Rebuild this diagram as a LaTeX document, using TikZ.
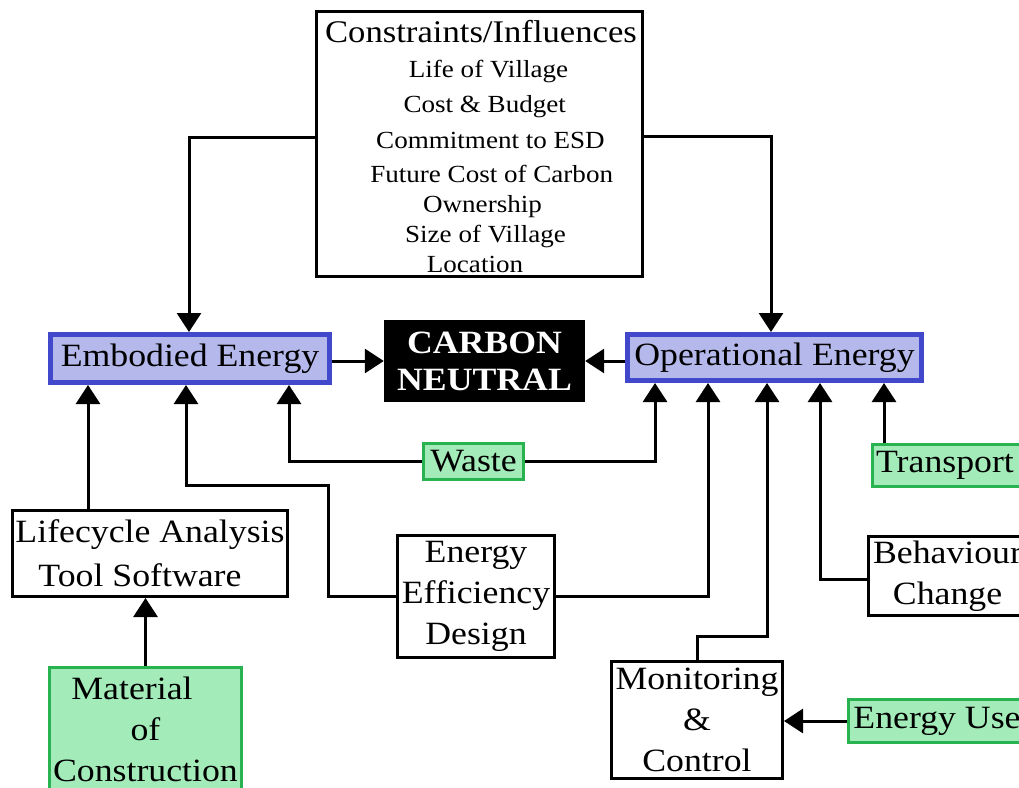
\documentclass[tikz,border=0pt]{standalone}
\usepackage{fontspec}
\setmainfont[FakeStretch=1.1]{Liberation Serif}
\usetikzlibrary{arrows.meta}

\definecolor{eneborder}{RGB}{66,72,204}
\definecolor{enefill}{RGB}{180,184,234}
\definecolor{inborder}{RGB}{40,178,80}
\definecolor{infill}{RGB}{163,236,185}

\newcommand\mainsz{\fontsize{32.5}{41}\selectfont}
\newcommand\itemsz{\fontsize{24.6}{30}\selectfont}
\newcommand\titlesz{\fontsize{31.5}{38}\selectfont}

\begin{document}
\begin{tikzpicture}[x=1pt,y=-1pt,
  box/.style={draw=black, line width=3pt, fill=white, inner sep=0pt,
    align=center, font=\mainsz},
  energy/.style={box, draw=eneborder, fill=enefill, line width=5pt},
  input/.style={box, draw=inborder, fill=infill},
  goal/.style={fill=black, text=white, inner sep=0pt, align=center,
    font=\fontsize{32.5}{37}\selectfont\bfseries},
  item/.style={anchor=base, inner sep=0pt, font=\itemsz},
  arr/.style={-{Triangle[length=19pt,width=24pt]}, line width=3pt, black}]

\useasboundingbox (0,0) rectangle (1019,787);
\fill[white] (0,0) rectangle (1019,787);
\clip (0,0) rectangle (1019,787);

% constraints box with its list
\node[box, minimum width=326pt, minimum height=265pt] (cons) at (479.5,144) {};
\node[item, font=\titlesz] (ct) at (481,42) {Constraints/Influences};
\node[item] (c1) at (488.5,77) {Life of Village};
\node[item] (c2) at (484.7,112) {Cost \& Budget};
\node[item] (c3) at (490.5,148) {Commitment to ESD};
\node[item] (c4) at (491.7,182) {Future Cost of Carbon};
\node[item] (c5) at (482.5,212) {Ownership};
\node[item] (c6) at (485.5,242) {Size of Village};
\node[item] (c7) at (475,272) {Location};

% energy boxes and goal
\node[energy, minimum width=279pt, minimum height=48pt] (emb) at (190,358.5) {Embodied Energy};
\node[goal, minimum width=201pt, minimum height=82pt] (carbon) at (484.5,361) {CARBON\\NEUTRAL};
\node[energy, minimum width=294pt, minimum height=46pt] (op) at (774.5,357.5) {Operational Energy};

% inputs
\node[input, minimum width=100pt, minimum height=36pt] (waste) at (473.5,461.5) {Waste};
\node[input, minimum width=156pt, minimum height=42pt] (trans) at (950.5,465.5) {Transport\hspace*{11pt}};
\node[input, minimum width=192pt, minimum height=123pt] (mat) at (145.5,729)
  {Material\hspace*{27pt}\\of\hspace*{23pt}\\Construction};
\node[input, minimum width=177pt, minimum height=43pt] (euse) at (937,721) {Energy Use};

% measures
\node[box, minimum width=275pt, minimum height=86pt] (lca) at (150,553.5)
  {Lifecycle Analysis\\[3pt]Tool Software\hspace*{20pt}};
\node[box, minimum width=157pt, minimum height=122pt] (eed) at (476,596.5)
  {Energy\\Efficiency\\Design};
\node[box, minimum width=158pt, minimum height=79pt] (beh) at (947.5,576)
  {Behaviour\\Change};
\node[box, minimum width=171pt, minimum height=117pt] (mon) at (697,720)
  {Monitoring\\\&\\Control};

% connectors
\coordinate (k1) at (328,485);
\coordinate (k2) at (767,636);

\draw[arr] ([yshift=7pt]cons.west) -| ([xshift=-1pt]emb.north);
\draw[arr] ([yshift=8pt]cons.east) -| ([xshift=-3.5pt]op.north);
\draw[arr] (emb.east |- carbon.west) -- (carbon.west);
\draw[arr] (op.west |- carbon.east) -- (carbon.east);

\draw[arr] ([xshift=-62pt]lca.north) -- ([xshift=-62pt]lca.north |- emb.south);
\draw[arr] (eed.west) -| (k1) -| ([xshift=-4pt]emb.south);
\draw[arr] (waste.west) -| ([xshift=99pt]emb.south);

\draw[arr] (waste.east) -| ([xshift=-119.5pt]op.south);
\draw[arr] (eed.east) -| ([xshift=-66.5pt]op.south);
\draw[arr] (mon.north) |- (k2) -- ([xshift=-7.5pt]op.south);
\draw[arr] ([yshift=-3pt]beh.west) -| ([xshift=45.5pt]op.south);
\draw[arr] ([xshift=-66.5pt]trans.north) -- ([xshift=-66.5pt]trans.north |- op.south);

\draw[arr] (mat.north) -- (mat.north |- lca.south);
\draw[arr] (euse.west) -- (euse.west -| mon.east);
\end{tikzpicture}
\end{document}
